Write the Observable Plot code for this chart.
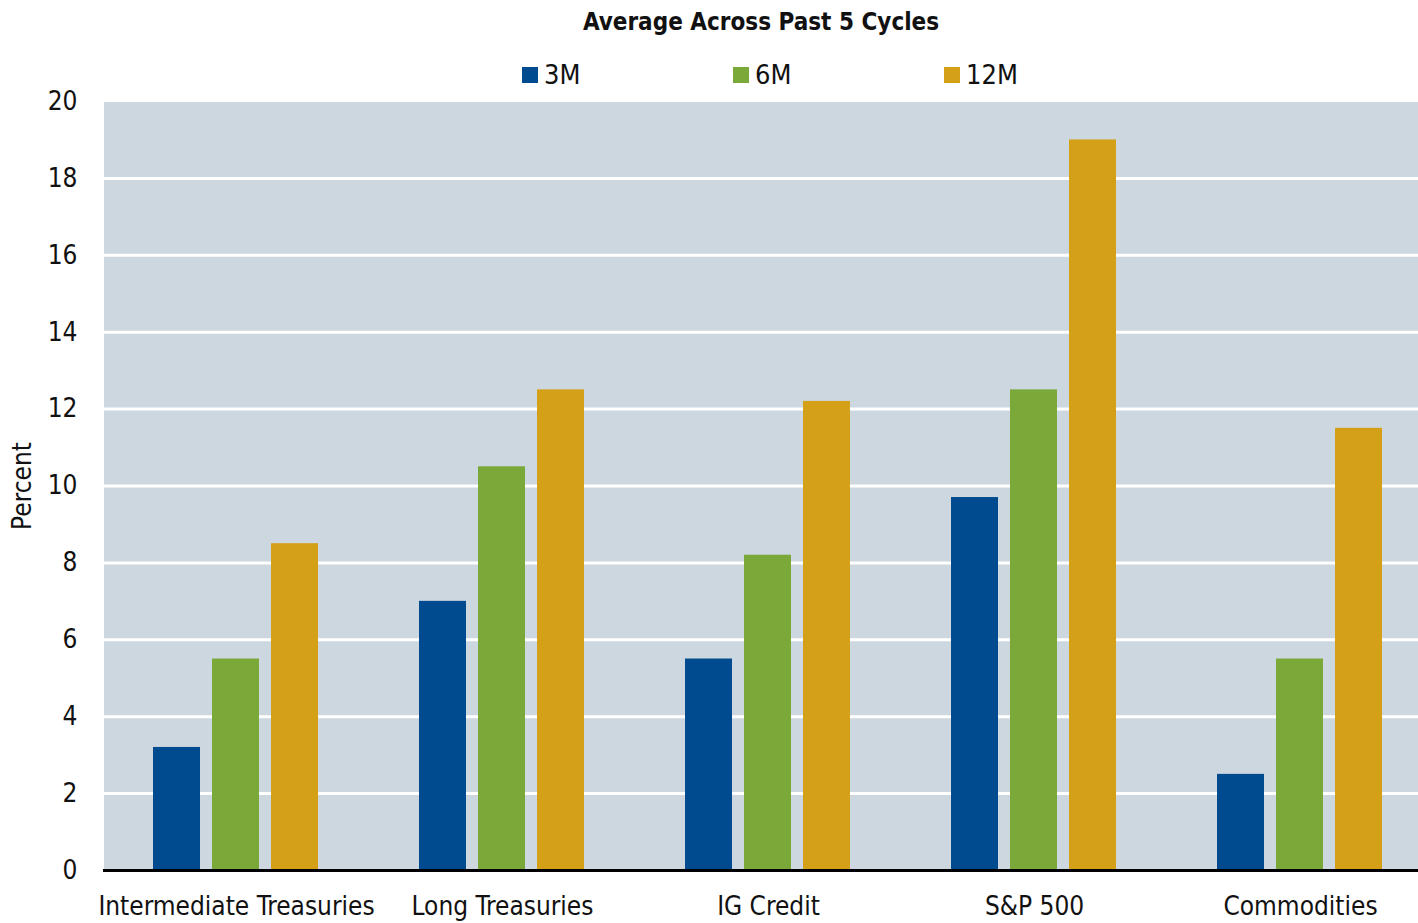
<!DOCTYPE html>
<html>
<head>
<meta charset="utf-8">
<script src="https://cdn.jsdelivr.net/npm/d3@7"></script>
<script src="https://cdn.jsdelivr.net/npm/@observablehq/plot@0.6"></script>
<style>
  html, body { margin: 0; padding: 0; background: #fff; }
  body { width: 1418px; height: 923px; position: relative; overflow: hidden;
         font-family: "DejaVu Sans", sans-serif; font-stretch: condensed; color: #111; }
  #title { position: absolute; left: 0; width: 1522px; top: 8px; text-align: center; font-weight: bold; font-size: 24px; }
  #legend { position: absolute; top: 57px; left: 0; width: 1418px; height: 40px; }
  .item { position: absolute; font-size: 27px; line-height: 36px; display: flex; align-items: center; }
  .sw { width: 16px; height: 16px; margin-right: 6px; display: inline-block; }
  #chart { position: absolute; left: 0; top: 60px; width: 1433px; }
  #chart svg { max-width: none !important; width: 1433px; height: 863px; }
  #chart svg text { font-stretch: condensed; }
</style>
</head>
<body>
<div id="title">Average Across Past 5 Cycles</div>
<div id="legend"></div>
<div id="chart"></div>
<script>
const categories = ["Intermediate Treasuries", "Long Treasuries", "IG Credit", "S&P 500", "Commodities"];
const seriesNames = ["3M", "6M", "12M"];
const seriesColors = ["#004a8f", "#7aa93a", "#d4a017"];
const values3M  = [3.2, 7.0, 5.5, 9.7, 2.5];
const values6M  = [5.5, 10.5, 8.2, 12.5, 5.5];
const values12M = [8.5, 12.5, 12.2, 19.0, 11.5];
const yTicks = [0, 2, 4, 6, 8, 10, 12, 14, 16, 18, 20];
const legendX = [522, 733, 944];

const seriesValues = [values3M, values6M, values12M];
const data = [];
categories.forEach((c, i) => seriesNames.forEach((s, j) => data.push({category: c, series: s, value: seriesValues[j][i]})));

const legend = document.getElementById("legend");
seriesNames.forEach((s, j) => {
  const d = document.createElement("div");
  d.className = "item";
  d.style.left = legendX[j] + "px";
  d.innerHTML = `<span class="sw" style="background:${seriesColors[j]}"></span><span>${s}</span>`;
  legend.appendChild(d);
});

const chart = Plot.plot({
  width: 1433,
  height: 863,
  marginTop: 41,
  marginBottom: 53,
  marginLeft: 103,
  marginRight: 0,
  style: {fontFamily: '"DejaVu Sans", sans-serif', fontSize: "26px", color: "#111", background: "transparent"},
  fx: {domain: categories, padding: 0, label: null, axis: "bottom", tickSize: 0, tickPadding: 26},
  x: {domain: seriesNames, paddingInner: 0.203, paddingOuter: 0.854, axis: null},
  y: {domain: [0, 20], ticks: yTicks, tickSize: 0, tickPadding: 26, label: "Percent", labelAnchor: "center", labelArrow: "none", labelOffset: 91},
  color: {domain: seriesNames, range: seriesColors},
  marks: [
    Plot.frame({fill: "#cdd7e0", stroke: null, shapeRendering: "crispEdges"}),
    Plot.gridY(yTicks.filter(t => t > 0 && t < 20), {stroke: "#ffffff", strokeOpacity: 1, strokeWidth: 3}),
    Plot.barY(data, {fx: "category", x: "series", y: "value", fill: "series"}),
    Plot.ruleY([0], {stroke: "#000", strokeWidth: 3})
  ]
});
document.getElementById("chart").appendChild(chart);
</script>
</body>
</html>
